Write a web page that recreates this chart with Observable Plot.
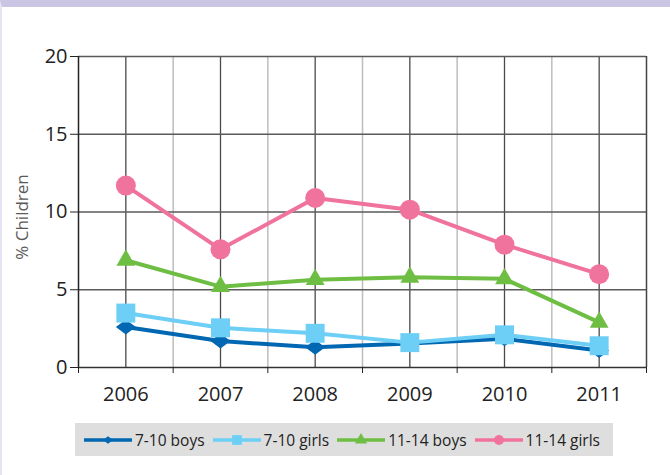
<!DOCTYPE html>
<html>
<head>
<meta charset="utf-8">
<script src="https://cdn.jsdelivr.net/npm/d3@7"></script>
<script src="https://cdn.jsdelivr.net/npm/@observablehq/plot@0.6"></script>
<style>
  html, body { margin: 0; padding: 0; background: #fff; }
  #wrap { width: 668px; height: 468px; border-top: 7px solid #c9c5e3; border-left: 2px solid #e6e4f3; position: relative; font-family: "Open Sans", sans-serif; }
  #chart svg { display: block; }
  #legend { position: absolute; left: 73px; top: 416px; width: 538px; height: 33px; background: #dedede; display: flex; align-items: center; font-size: 15.5px; color: #222; }
  .item { display: flex; align-items: center; margin-left: 9px; margin-right: -1px; }
  .item svg { margin-right: 3px; }
</style>
</head>
<body>
<div id="wrap">
  <div id="chart"></div>
  <div id="legend"></div>
</div>
<script>
const years = [2006, 2007, 2008, 2009, 2010, 2011];
const boys710 = [2.6, 1.7, 1.3, 1.55, 1.85, 1.1];
const girls710 = [3.5, 2.55, 2.2, 1.6, 2.1, 1.4];
const boys1114 = [6.9, 5.2, 5.65, 5.8, 5.7, 2.9];
const girls1114 = [11.7, 7.6, 10.9, 10.15, 7.9, 6.0];
const seriesNames = ["7-10 boys", "7-10 girls", "11-14 boys", "11-14 girls"];
const yTicks = [0, 5, 10, 15, 20];
const yLabel = "% Children";

const colors = ["#0067b2", "#6dcff6", "#6fbe44", "#f0739e"];
const wideDiamond = {
  draw(context, size) {
    const s = Math.sqrt(size / Math.PI);
    context.moveTo(-s, 0);
    context.lineTo(0, -0.75 * s);
    context.lineTo(s, 0);
    context.lineTo(0, 0.75 * s);
    context.closePath();
  }
};
const symbols = [wideDiamond, d3.symbolSquare, d3.symbolTriangle, d3.symbolCircle];
const sizes = [10, 10.7, 7, 10];
const legendSizes = [5, 5.5, 4.5, 5];

const allValues = [boys710, girls710, boys1114, girls1114];
const data = [];
allValues.forEach((vals, i) => vals.forEach((v, j) => data.push({series: seriesNames[i], year: years[j], value: v})));

const halfYears = [years[0] - 0.5, ...years.map(y => y + 0.5)];

const marks = [
  Plot.ruleX(halfYears.slice(1, -1), {stroke: "#bdbdbd", strokeWidth: 1.5}),
  Plot.ruleX(years, {stroke: "#4a4a4a", strokeWidth: 1.3}),
  Plot.ruleY(yTicks.slice(1), {stroke: "#5a5a5a", strokeWidth: 1.5}),
  Plot.ruleX([halfYears[halfYears.length - 1]], {stroke: "#444", strokeWidth: 1.5}),
  Plot.ruleX([halfYears[0]], {stroke: "#222", strokeWidth: 1.5}),
  Plot.ruleY([0], {stroke: "#333", strokeWidth: 1.5}),
  Plot.axisY({ticks: yTicks, tickSize: 8, tickPadding: 3, label: null, fontSize: 20}),
  Plot.axisX({ticks: years, tickSize: 0, tickPadding: 19, tickFormat: d => String(d), label: null, fontSize: 20}),
  Plot.axisX({ticks: halfYears, tickSize: 6, tickFormat: () => "", label: null}),
  Plot.text([yLabel], {frameAnchor: "left", dx: -56, dy: 5, rotate: -90, textAnchor: "middle", fontSize: 17, fill: "#5a5a5a"})
];
seriesNames.forEach((name, i) => {
  const d = data.filter(r => r.series === name);
  marks.push(Plot.line(d, {x: "year", y: "value", stroke: colors[i], strokeWidth: 4}));
  marks.push(Plot.dot(d, {x: "year", y: "value", fill: colors[i], symbol: symbols[i], r: sizes[i], stroke: "none"}));
});

const chart = Plot.plot({
  width: 668,
  height: 405,
  marginLeft: 76,
  marginRight: 24,
  marginTop: 49,
  marginBottom: 45,
  x: {domain: [halfYears[0], halfYears[halfYears.length - 1]]},
  y: {domain: [0, 20]},
  style: {fontFamily: "Open Sans, sans-serif", fontSize: "20px", color: "#222", background: "white", overflow: "visible"},
  marks
});
document.getElementById("chart").appendChild(chart);

const legend = document.getElementById("legend");
seriesNames.forEach((name, i) => {
  const item = document.createElement("div");
  item.className = "item";
  const svg = d3.create("svg").attr("width", 48).attr("height", 20);
  svg.append("line").attr("x1", 0).attr("x2", 48).attr("y1", 10).attr("y2", 10).attr("stroke", colors[i]).attr("stroke-width", 3.5);
  const size = Math.PI * legendSizes[i] * legendSizes[i];
  svg.append("path").attr("transform", "translate(24,10)").attr("fill", colors[i]).attr("d", d3.symbol(symbols[i], size)());
  item.appendChild(svg.node());
  const t = document.createElement("span");
  t.textContent = name;
  item.appendChild(t);
  legend.appendChild(item);
});
</script>
</body>
</html>
